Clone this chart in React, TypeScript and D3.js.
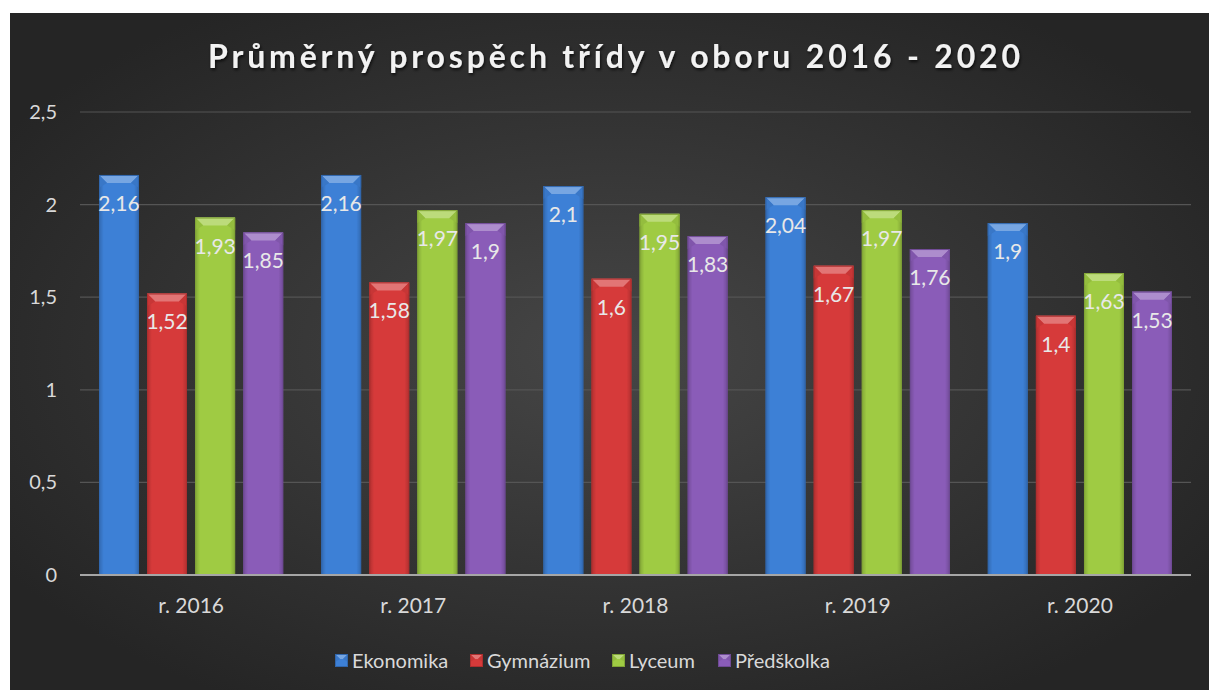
import React from "react";
import * as d3 from "d3";

const years = ["r. 2016", "r. 2017", "r. 2018", "r. 2019", "r. 2020"];
const seriesNames = ["Ekonomika", "Gymnázium", "Lyceum", "Předškolka"];
const ekonomika = [2.16, 2.16, 2.1, 2.04, 1.9];
const gymnazium = [1.52, 1.58, 1.6, 1.67, 1.4];
const lyceum = [1.93, 1.97, 1.95, 1.97, 1.63];
const predskolka = [1.85, 1.9, 1.83, 1.76, 1.53];
const yTicks = [0, 0.5, 1, 1.5, 2, 2.5];

const seriesValues = [ekonomika, gymnazium, lyceum, predskolka];
const colors = ["#3d80d6", "#d63a3a", "#9fcb43", "#8a5cb8"];

const width = 1209;
const height = 690;
const plot = { left: 80, right: 1191, top: 112, bottom: 575 };
const font = "Lato, 'Open Sans', sans-serif";

const x0 = d3.scaleBand<string>()
  .domain(years)
  .range([plot.left, plot.right]);

const x1 = d3.scaleBand<string>()
  .domain(seriesNames)
  .range([19, x0.bandwidth() - 19])
  .paddingInner(0.17);

const y = d3.scaleLinear()
  .domain([0, 2.5])
  .range([plot.bottom, plot.top]);

const fmt = (v: number) => String(v).replace(".", ",");

function Bevel({ x, y: top, w, h, color, b = 8 }: { x: number; y: number; w: number; h: number; color: string; b?: number }) {
  const c = d3.color(color)!;
  const light = d3.interpolateRgb(color, "#ffffff")(0.3);
  const dark = c.darker(0.6).toString();
  const bb = Math.min(b, h / 2);
  return (
    <g>
      <rect x={x} y={top} width={w} height={h} fill={color} />
      <rect x={x} y={top} width={w} height={h} fill="url(#sideShade)" />
      <polygon
        points={`${x},${top} ${x + w},${top} ${x + w - bb},${top + bb} ${x + bb},${top + bb}`}
        fill={light}
      />
      <polygon points={`${x},${top} ${x + bb},${top + bb} ${x},${top + bb * 1.6}`} fill={c.darker(0.2).toString()} />
      <polygon points={`${x + w},${top} ${x + w - bb},${top + bb} ${x + w},${top + bb * 1.6}`} fill={c.darker(0.2).toString()} />
      <rect x={x + 0.5} y={top + 0.5} width={w - 1} height={h - 1} fill="none" stroke={dark} strokeWidth={1} />
    </g>
  );
}

export default function App() {
  const legendX = [335, 470, 612, 718];
  return (
    <svg width={width} height={height} style={{ position: "absolute", left: 0, top: 0 }}>
      <defs>
        <radialGradient id="bg" cx="50%" cy="50%" r="60%">
          <stop offset="0%" stopColor="#464646" />
          <stop offset="100%" stopColor="#252525" />
        </radialGradient>
        <linearGradient id="sideShade" x1="0" x2="1" y1="0" y2="0">
          <stop offset="0%" stopColor="#000" stopOpacity={0.18} />
          <stop offset="12%" stopColor="#000" stopOpacity={0} />
          <stop offset="88%" stopColor="#000" stopOpacity={0} />
          <stop offset="100%" stopColor="#000" stopOpacity={0.18} />
        </linearGradient>
        <filter id="shadow" x="-10%" y="-30%" width="120%" height="160%">
          <feDropShadow dx="1" dy="2" stdDeviation="1.5" floodColor="#000" floodOpacity={0.7} />
        </filter>
      </defs>
      <rect x={10} y={13} width={width - 10} height={height - 13} fill="url(#bg)" />

      <text
        x={614}
        y={68}
        textAnchor="middle"
        fill="#f2f2f2"
        fontFamily={font}
        fontWeight="bold"
        fontSize={32}
        textLength={812}
        lengthAdjust="spacing"
        filter="url(#shadow)"
      >
        Průměrný prospěch třídy v oboru 2016 - 2020
      </text>

      {yTicks.map((t) => (
        <g key={t}>
          {t > 0 && (
            <line x1={plot.left} x2={plot.right} y1={y(t)} y2={y(t)} stroke="#555555" strokeWidth={1.2} />
          )}
          <text x={57} y={y(t)} dy="0.35em" textAnchor="end" fill="#d9d9d9" fontFamily={font} fontSize={20}>
            {fmt(t)}
          </text>
        </g>
      ))}

      {years.map((yr, i) => (
        <g key={yr} transform={`translate(${x0(yr)},0)`}>
          {seriesNames.map((s, j) => {
            const v = seriesValues[j][i];
            const bx = x1(s)!;
            const by = y(v);
            const bw = x1.bandwidth();
            return (
              <g key={s}>
                <Bevel x={bx} y={by} w={bw} h={y(0) - by} color={colors[j]} />
                <text
                  x={bx + bw / 2}
                  y={by + 36}
                  textAnchor="middle"
                  fill="#e8e8e8"
                  fontFamily={font}
                  fontSize={21}
                >
                  {fmt(v)}
                </text>
              </g>
            );
          })}
          <text
            x={x0.bandwidth() / 2}
            y={613}
            textAnchor="middle"
            fill="#d9d9d9"
            fontFamily={font}
            fontSize={21}
          >
            {yr}
          </text>
        </g>
      ))}

      <line x1={plot.left} x2={plot.right} y1={y(0)} y2={y(0)} stroke="#a6a6a6" strokeWidth={2} />

      {seriesNames.map((s, j) => (
        <g key={s} transform={`translate(${legendX[j]},654)`}>
          <Bevel x={0} y={0} w={13} h={13} color={colors[j]} b={5} />
          <text x={17} y={6.5} dy="0.36em" fill="#d9d9d9" fontFamily={font} fontSize={20}>
            {s}
          </text>
        </g>
      ))}
    </svg>
  );
}
